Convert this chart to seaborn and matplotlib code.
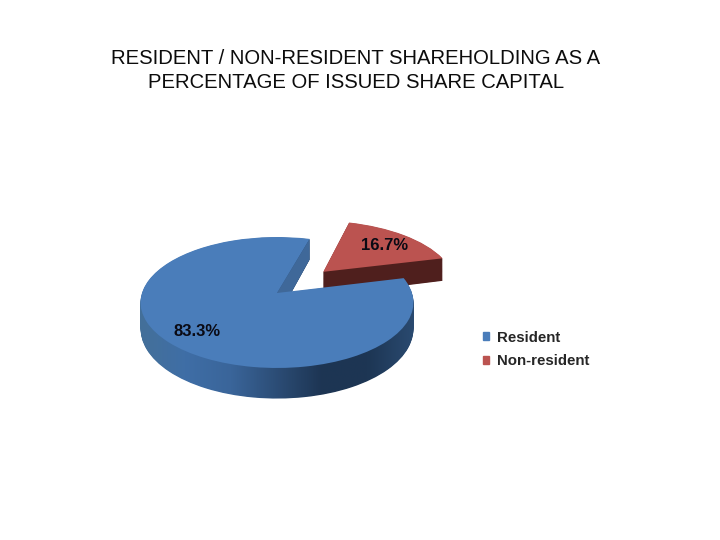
import numpy as np
import matplotlib
matplotlib.use("Agg")
import matplotlib.pyplot as plt
from matplotlib.patches import Patch
from matplotlib.transforms import Transform
import seaborn as sns

categories = ["Resident", "Non-resident"]
values = [83.3, 16.7]
explode = [0, 0.5]
title = "RESIDENT / NON-RESIDENT SHAREHOLDING AS A\nPERCENTAGE OF ISSUED SHARE CAPITAL"

# layout, in pixels of the 720x540 canvas
apex_x, apex_y = 277, 293
radius_x, radius_y = 135, 64.1
tilt = 0.145
depth = 25.5
start_angle = 74
label_pos = [(197, 331), (385, 245)]

blue = "#4a7dba"
red = "#bb5350"
red_wall = "#4f1f1d"
blue_face = "#3f6899"
wall_stops = ["#447099", "#3f6ea6", "#3a659a", "#2c4d76", "#1d3553", "#1d3654", "#2a4a70"]

sns.set_theme(style="white")
plt.rcParams["font.family"] = ["Liberation Sans", "DejaVu Sans"]


class PieProjection(Transform):
    # unit pie -> canvas pixels, far side smaller than the near side
    input_dims = 2
    output_dims = 2
    is_separable = False
    has_inverse = False

    def __init__(self, z=0.0):
        super().__init__()
        self.z = z

    def transform_non_affine(self, values):
        xy = np.asarray(values, dtype=float)
        x, y = xy[:, 0], xy[:, 1]
        w = 1 + tilt * y
        px = apex_x + radius_x * x / w
        py = apex_y - radius_y * y / w + self.z * depth * (1 - 0.2 * y)
        return np.column_stack([px, py])


fig = plt.figure(figsize=(7.2, 5.4), dpi=100)
ax = fig.add_axes([0, 0, 1, 1])
wall_cmap = sns.blend_palette(wall_stops, as_cmap=True)
gradient = np.linspace(0, 1, 256)[None, :]
flat = {"linewidth": 0}

# side walls: stack of pies from the bottom up
for z in np.linspace(1, 0, 44)[:-1]:
    wedges, _ = ax.pie(values, explode=explode, startangle=start_angle,
                       colors=[blue, red_wall], wedgeprops=flat)
    proj = PieProjection(z)
    for w in wedges:
        w.set_transform(proj + ax.transData)
    wedges[1].set_zorder(1)
    wedges[0].set_visible(False)
    im = ax.imshow(gradient, extent=(139, 414, 405, 230), cmap=wall_cmap, aspect="auto", zorder=2)
    im.set_clip_path(wedges[0])

# cut face of the big slice, seen through the gap
a = np.deg2rad(start_angle)
edge = np.array([[0, 0], [np.cos(a), np.sin(a)]])
top_edge = PieProjection(0).transform(edge)
low_edge = PieProjection(1).transform(edge)
face = np.vstack([top_edge, low_edge[::-1]])
ax.fill(face[:, 0], face[:, 1], color=blue_face, lw=0, zorder=3)

# top surface
wedges, _, autotexts = ax.pie(values, explode=explode, startangle=start_angle,
                              colors=[blue, red], autopct="%.1f%%", wedgeprops=flat)
proj = PieProjection(0)
for w in wedges:
    w.set_transform(proj + ax.transData)
wedges[0].set_zorder(4)
wedges[1].set_zorder(1.5)
for t, pos in zip(autotexts, label_pos):
    t.set_position(pos)
    t.set(color="#0a0a14", fontsize=12, fontweight="bold", ha="center", va="center", zorder=6)

ax.set_aspect("auto")
ax.set_xlim(0, 720)
ax.set_ylim(540, 0)
ax.axis("off")

fig.text(356 / 720, 1 - 70.5 / 540, title, ha="center", va="center", fontsize=14.6,
         linespacing=1.4, color="#0c0c0c")

handles = [Patch(color=blue), Patch(color=red)]
ax.legend(handles, categories, loc="upper left", bbox_to_anchor=(478 / 720, 1 - 326 / 540),
          bbox_transform=fig.transFigure, frameon=False, handlelength=0.45, handleheight=0.45,
          handletextpad=0.55, labelspacing=0.66, borderaxespad=0, borderpad=0.3,
          prop={"size": 10.8, "weight": "bold"})

fig.savefig("out.png", dpi=100, facecolor="white")
